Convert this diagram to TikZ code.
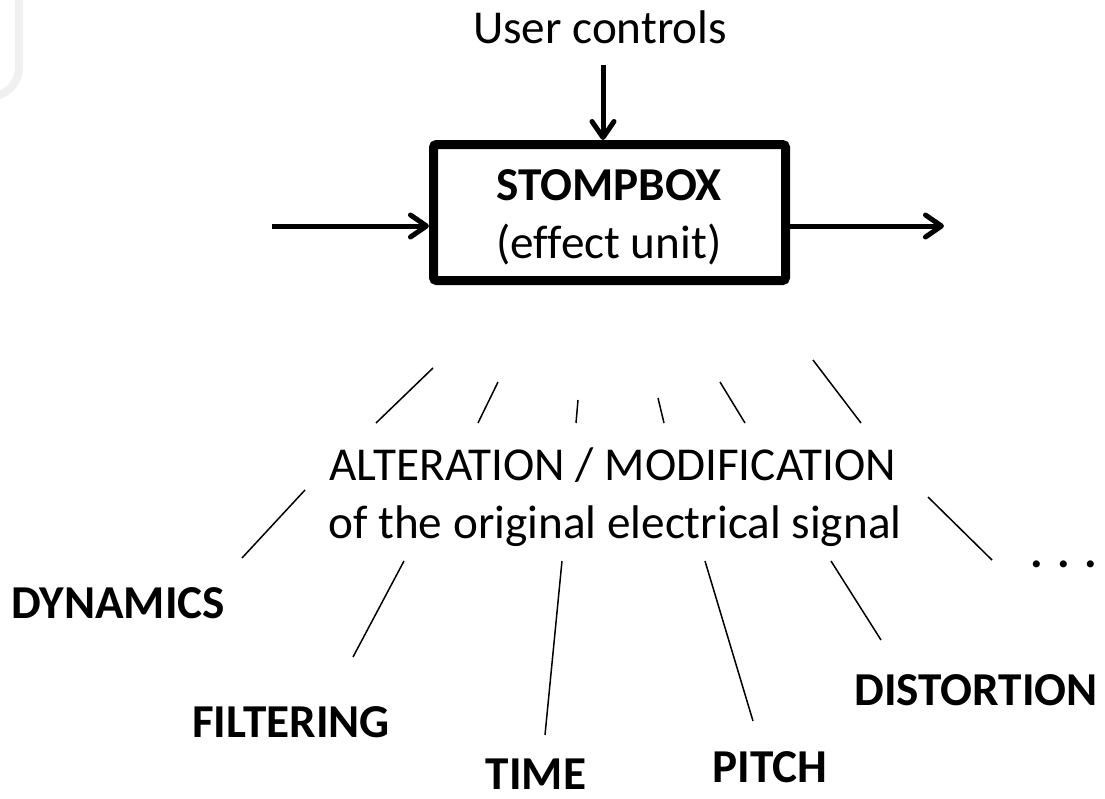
\documentclass[tikz,border=0pt]{standalone}
\usepackage{fontspec}
\setmainfont{Carlito}[Ligatures=NoCommon]
\usetikzlibrary{arrows.meta}

\begin{document}
\begin{tikzpicture}[x=0.5pt,y=-0.5pt,
  every node/.style={inner sep=0pt,font=\fontsize{23.6pt}{29pt}\selectfont},
  sig/.style={line width=2.5pt,-{Straight Barb[length=8pt,width=11pt,round]}},
  ray/.style={line width=0.75pt},
  kind/.style={font=\fontsize{23.6pt}{29pt}\selectfont\bfseries,anchor=base},
  stompbox/.style={draw,line width=4.5pt,rounded corners=1.5pt,minimum width=176pt,minimum height=68pt}]

\useasboundingbox (0,0) rectangle (1105,799);

% faint frame in the corner
\draw[black!6,line width=4pt] (19,-10) -- (19,67) arc[start angle=0,end angle=-90,radius=15pt];

\node[anchor=base] (ctrl) at (600,43) {User controls};
\coordinate (ctrltip) at (603,65);
\node[stompbox] (box) at (609.5,212.5) {};
\node[kind] (stomp) at (609,200) {STOMPBOX};
\node[anchor=base] (effect) at (609,258) {(effect unit)};
\coordinate (in) at (272,226);
\coordinate (out) at (944,226);

\draw[sig] (ctrltip) -- (ctrltip |- box.north);
\draw[sig] (in) -- (in -| box.west);
\draw[sig] (box.east |- out) -- (out);

\node[anchor=base] (alter) at (613,480) {ALTERATION / MODIFICATION};
\node[anchor=base] (orig) at (615,538) {of the original electrical signal};

\node[kind] (dyn) at (118,618) {DYNAMICS};
\node[kind] (filt) at (291,737) {FILTERING};
\node[kind] (time) at (536,789) {TIME};
\node[kind] (pitch) at (770,782) {PITCH};
\node[kind] (dist) at (976,705) {DISTORTION};
\node[kind] (more) at (1064,567) {. . .};

% rays above the text
\foreach \ax/\ay/\bx/\by [count=\i] in {433/368/376/423, 498/382/478/423, 578/400/576/423,
    658/398/664/423, 720/382/745/423, 813/360/861/423}
{
  \coordinate (up\i) at (\ax,\ay);
  \coordinate (upend\i) at (\bx,\by);
  \draw[ray] (up\i) -- (upend\i);
}

% rays below the text
\foreach \ax/\ay/\bx/\by [count=\i] in {305/490/242/558, 404/561/353/657, 562/561/545/735,
    705/561/753/721, 831/561/881/640, 928/497/992/560}
{
  \coordinate (lo\i) at (\ax,\ay);
  \coordinate (loend\i) at (\bx,\by);
  \draw[ray] (lo\i) -- (loend\i);
}

\end{tikzpicture}
\end{document}
